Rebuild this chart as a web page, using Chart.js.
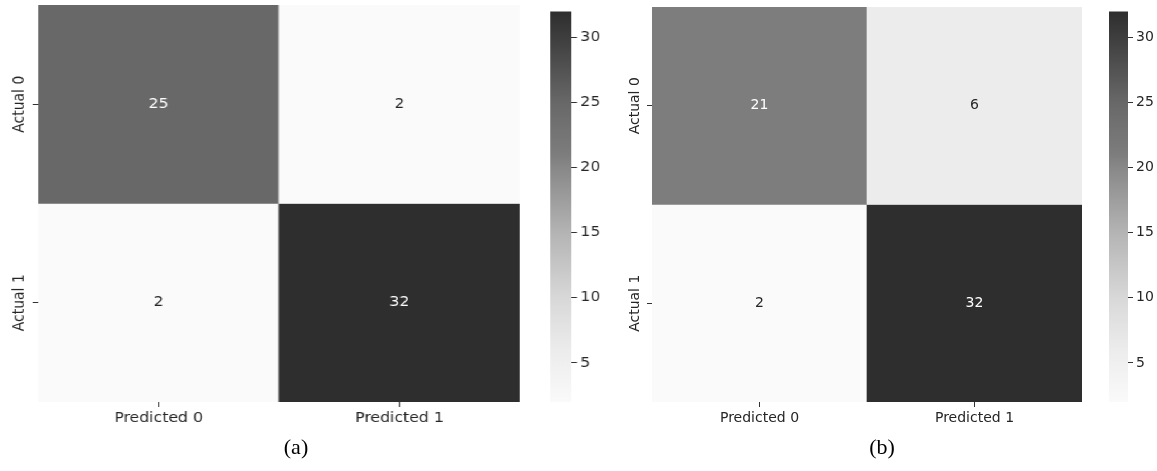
<!DOCTYPE html>
<html>
<head>
<meta charset="utf-8">
<title>Confusion matrices</title>
<script src="https://cdn.jsdelivr.net/npm/chart.js@4.4.0/dist/chart.umd.min.js"></script>
<style>
  html, body { margin: 0; padding: 0; background: #ffffff; }
  body { width: 1157px; height: 471px; position: relative; overflow: hidden; }
  .panel { position: absolute; top: 0; width: 557px; height: 471px; transform-origin: 0 0; }
  .panel canvas { position: absolute; top: 0; }
  .caption {
    position: absolute;
    font-family: "Liberation Serif", "Times New Roman", serif;
    font-size: 22px;
    color: #000000;
    transform: translate(-50%, -50%);
    white-space: nowrap;
  }
</style>
</head>
<body>
<div class="panel" id="panelA" style="left:-19.7px; transform: scaleX(1.12);">
  <canvas id="heatA" width="484" height="440" style="left:0"></canvas>
  <canvas id="barA" width="57" height="440" style="left:500px"></canvas>
</div>
<div class="panel" id="panelB" style="left:600px;">
  <canvas id="heatB" width="484" height="440" style="left:0"></canvas>
  <canvas id="barB" width="57" height="440" style="left:500px"></canvas>
</div>
<div class="caption" style="left:296px; top:447px;">(a)</div>
<div class="caption" style="left:882px; top:447px;">(b)</div>

<script>
// Axis categories
const predictedLabels = ['Predicted 0', 'Predicted 1'];
const actualLabels = ['Actual 0', 'Actual 1'];

// Confusion counts, one array per actual class
const panelA_actual0 = [25, 2];
const panelA_actual1 = [2, 32];
const panelB_actual0 = [21, 6];
const panelB_actual1 = [2, 32];

// Colour bar range and tick values
const colorRange = [2, 32];
const colorbarTicks = [5, 10, 15, 20, 25, 30];

// Grey colour map: [value, grey level]
const grayStops = [
  [2, 250], [6, 236], [10, 216], [15, 180], [20, 136],
  [21, 125], [25, 104], [30, 62], [32, 46]
];

const tickFont = { family: '"DejaVu Sans", sans-serif', size: 14 };
const textColor = '#262626';

function grayLevel(v) {
  if (v <= grayStops[0][0]) return grayStops[0][1];
  for (let i = 1; i < grayStops.length; i++) {
    const [v1, g1] = grayStops[i];
    const [v0, g0] = grayStops[i - 1];
    if (v <= v1) return g0 + (g1 - g0) * (v - v0) / (v1 - v0);
  }
  return grayStops[grayStops.length - 1][1];
}
function grayAt(v) {
  const g = Math.round(grayLevel(v));
  return `rgb(${g},${g},${g})`;
}

// Writes each cell's count in its centre
const cellLabels = {
  id: 'cellLabels',
  afterDatasetsDraw(chart) {
    const ctx = chart.ctx;
    ctx.save();
    ctx.font = '14px "DejaVu Sans", sans-serif';
    ctx.textAlign = 'center';
    ctx.textBaseline = 'middle';
    chart.data.datasets.forEach((ds, di) => {
      chart.getDatasetMeta(di).data.forEach((bar, i) => {
        const v = ds.counts[i];
        const c = bar.getCenterPoint();
        ctx.fillStyle = grayLevel(v) < 160 ? '#ffffff' : textColor;
        ctx.fillText(String(v), c.x, c.y);
      });
    });
    ctx.restore();
  }
};

function makeHeatmap(canvasId, rows, top) {
  const datasets = rows.map((vals, r) => ({
    label: actualLabels[r],
    data: vals.map(() => [r, r + 1]),
    counts: vals,
    backgroundColor: vals.map(grayAt),
    borderWidth: 0,
    barPercentage: 1,
    categoryPercentage: 1,
    grouped: false
  }));
  return new Chart(document.getElementById(canvasId), {
    type: 'bar',
    data: { labels: predictedLabels, datasets },
    options: {
      responsive: false,
      animation: false,
      layout: { padding: { top: top, right: 2, left: 0, bottom: 0 } },
      plugins: { legend: { display: false }, tooltip: { enabled: false } },
      scales: {
        x: {
          grid: { offset: false, drawOnChartArea: false, tickLength: 5, tickWidth: 1, tickColor: '#333333' },
          border: { display: false },
          ticks: { font: tickFont, color: textColor, padding: 3, maxRotation: 0 },
          afterFit: s => { s.height = 38; }
        },
        y: {
          min: 0,
          max: actualLabels.length,
          reverse: true,
          grid: { drawOnChartArea: false, tickLength: 5, tickWidth: 1, tickColor: '#333333' },
          border: { display: false },
          afterBuildTicks: ax => { ax.ticks = actualLabels.map((_, i) => ({ value: i + 0.5 })); },
          ticks: {
            font: tickFont,
            color: textColor,
            minRotation: 90,
            maxRotation: 90,
            crossAlign: 'center',
            padding: -17,
            callback: v => actualLabels[Math.floor(v)]
          },
          afterFit: s => { s.width = 52; }
        }
      }
    },
    plugins: [cellLabels]
  });
}

function colorbarFill(chart) {
  const area = chart.chartArea;
  if (!area) return grayAt(colorRange[1]);
  const y = chart.scales.y;
  const y0 = y.getPixelForValue(colorRange[0]);
  const y1 = y.getPixelForValue(colorRange[1]);
  const g = chart.ctx.createLinearGradient(0, y0, 0, y1);
  grayStops.forEach(([v]) => {
    g.addColorStop((v - colorRange[0]) / (colorRange[1] - colorRange[0]), grayAt(v));
  });
  return g;
}

function makeColorbar(canvasId, top) {
  return new Chart(document.getElementById(canvasId), {
    type: 'bar',
    data: {
      labels: [''],
      datasets: [{
        data: [colorRange],
        backgroundColor: ctx => colorbarFill(ctx.chart),
        borderWidth: 0,
        barPercentage: 1,
        categoryPercentage: 1
      }]
    },
    options: {
      responsive: false,
      animation: false,
      layout: { padding: { top: top, left: 9, right: 0, bottom: 38 } },
      plugins: { legend: { display: false }, tooltip: { enabled: false } },
      scales: {
        x: { display: false },
        y: {
          position: 'right',
          min: colorRange[0],
          max: colorRange[1],
          grid: { drawOnChartArea: false, tickLength: 5, tickWidth: 1, tickColor: '#333333' },
          border: { display: false },
          afterBuildTicks: ax => { ax.ticks = colorbarTicks.map(v => ({ value: v })); },
          ticks: { font: tickFont, color: textColor, padding: 3 },
          afterFit: s => { s.width = 29; }
        }
      }
    }
  });
}

makeHeatmap('heatA', [panelA_actual0, panelA_actual1], 5);
makeColorbar('barA', 5);
makeHeatmap('heatB', [panelB_actual0, panelB_actual1], 7);
makeColorbar('barB', 7);
</script>
</body>
</html>
